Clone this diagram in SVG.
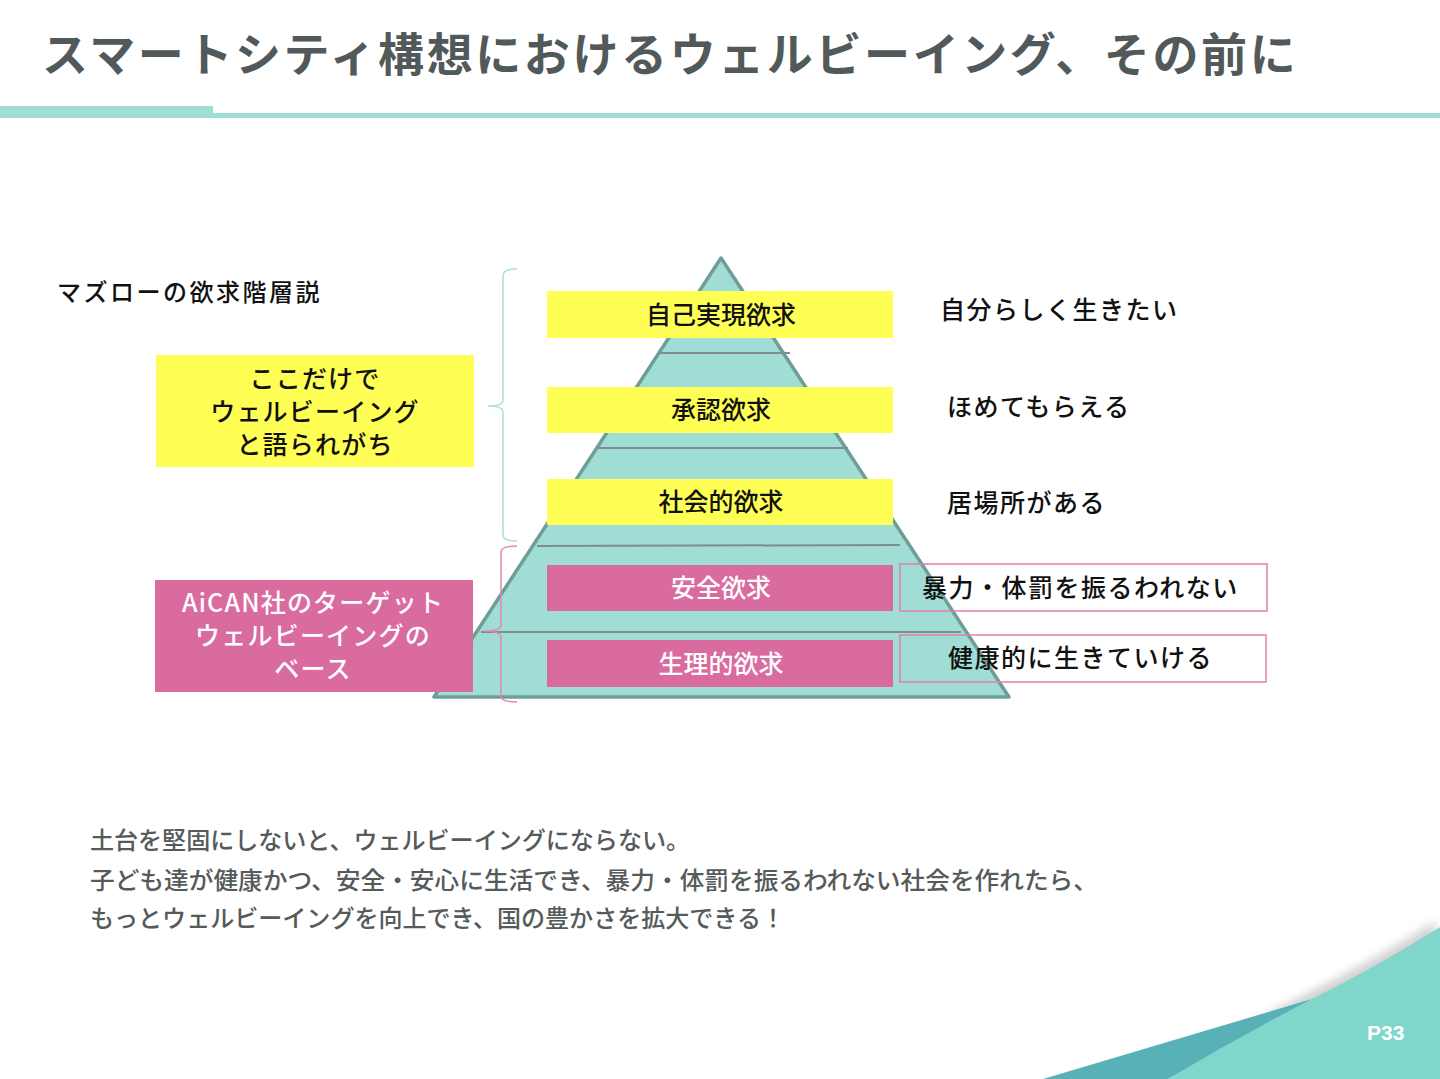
<svg xmlns="http://www.w3.org/2000/svg" width="1440" height="1079" viewBox="0 0 1440 1079">
<defs>
<style>
text{font-family:"Noto Sans CJK JP","Noto Sans",sans-serif;}
.title{font-size:46px;font-weight:700;fill:#52595a;letter-spacing:2.6px;}
.lvl{font-size:25px;font-weight:500;text-anchor:middle;}
.dk{fill:#111;}
.wt{fill:#fff;}
.desc{font-size:25px;font-weight:500;fill:#111;letter-spacing:1.5px;}
.yel{fill:#fefe55;}
.pnk{fill:#da6b9f;}
.sep{stroke:#7e8e8c;stroke-width:2;fill:none;}
.note{font-size:24px;font-weight:500;fill:#555a5a;}
.box{fill:none;stroke:#e27fab;stroke-width:1.5;}
.bl{font-size:25px;font-weight:500;text-anchor:middle;letter-spacing:1.2px;}
</style>
<filter id="blur" x="-10%" y="-50%" width="120%" height="200%">
<feGaussianBlur stdDeviation="5"/>
</filter>
</defs>
<rect width="1440" height="1079" fill="#fff"/>

<g id="header">
<text class="title" x="42" y="71">スマートシティ構想におけるウェルビーイング、その前に</text>
<rect x="0" y="106" width="213" height="9" fill="#9fddd7"/>
<rect x="0" y="113" width="1440" height="5" fill="#9fddd7"/>
</g>

<g id="pyramid">
<polygon points="721,258 434,697 1009,697" fill="#9fddd5" stroke="#6f9e99" stroke-width="3.5" stroke-linejoin="round"/>
<line class="sep" x1="659" y1="353" x2="790" y2="353"/>
<line class="sep" x1="597" y1="448" x2="848" y2="448"/>
<line class="sep" x1="537" y1="546" x2="900" y2="545"/>
<line class="sep" x1="481" y1="632" x2="961" y2="632"/>
</g>

<g id="connectors">
<path d="M517,269 Q503,269 503,276 L503,400 Q503,406 488,406 Q503,406 503,412 L503,535 Q503,541 517,541" fill="none" stroke="#a8e0db" stroke-width="1.5"/>
<path d="M517,546 Q501,546 501,552 L501,625 Q501,631 484,631 Q501,631 501,637 L501,696 Q501,702 517,702" fill="none" stroke="#e585b2" stroke-width="1.5"/>
</g>

<g id="n-self">
<rect class="yel" x="547" y="291" width="346" height="47"/>
<text class="lvl dk" x="721" y="324">自己実現欲求</text>
</g>
<g id="n-esteem">
<rect class="yel" x="547" y="387" width="346" height="46"/>
<text class="lvl dk" x="721" y="419">承認欲求</text>
</g>
<g id="n-social">
<rect class="yel" x="547" y="479" width="346" height="46"/>
<text class="lvl dk" x="721" y="511">社会的欲求</text>
</g>
<g id="n-safety">
<rect class="pnk" x="547" y="565" width="346" height="46"/>
<text class="lvl wt" x="721" y="597">安全欲求</text>
</g>
<g id="n-phys">
<rect class="pnk" x="547" y="640" width="346" height="47"/>
<text class="lvl wt" x="721" y="673">生理的欲求</text>
</g>

<g id="d-self"><text class="desc" x="940" y="319">自分らしく生きたい</text></g>
<g id="d-esteem"><text class="desc" x="947" y="416">ほめてもらえる</text></g>
<g id="d-social"><text class="desc" x="947" y="512">居場所がある</text></g>
<g id="d-safety">
<rect class="box" x="900" y="564" width="367" height="47"/>
<text class="desc" x="922" y="597">暴力・体罰を振るわれない</text>
</g>
<g id="d-phys">
<rect class="box" x="900" y="635" width="366" height="47"/>
<text class="desc" x="948" y="667">健康的に生きていける</text>
</g>

<g id="maslow"><text x="57" y="301" style="font-size:24px;font-weight:500;fill:#111;letter-spacing:2.5px">マズローの欲求階層説</text></g>

<g id="n-wb">
<rect class="yel" x="156" y="355" width="318" height="112"/>
<text class="bl dk" x="315" y="388">ここだけで</text>
<text class="bl dk" x="315" y="421">ウェルビーイング</text>
<text class="bl dk" x="315" y="454">と語られがち</text>
</g>
<g id="n-aican">
<rect class="pnk" x="155" y="580" width="318" height="112"/>
<text class="bl wt" x="313" y="612">AiCAN社のターゲット</text>
<text class="bl wt" x="313" y="645">ウェルビーイングの</text>
<text class="bl wt" x="313" y="678">ベース</text>
</g>

<g id="notes">
<text class="note" x="90" y="849" textLength="600" lengthAdjust="spacingAndGlyphs">土台を堅固にしないと、ウェルビーイングにならない。</text>
<text class="note" x="90" y="889" textLength="1008" lengthAdjust="spacingAndGlyphs">子ども達が健康かつ、安全・安心に生活でき、暴力・体罰を振るわれない社会を作れたら、</text>
<text class="note" x="90" y="927" textLength="695" lengthAdjust="spacingAndGlyphs">もっとウェルビーイングを向上でき、国の豊かさを拡大できる！</text>
</g>

<g id="corner">
<path d="M1168,1079 Q1240,1036 1312,999 Q1380,965 1440,927 L1440,1079 Z" fill="#000" opacity="0.18" filter="url(#blur)" transform="translate(-4,-6)"/>
<path d="M1043,1079 L1312,999 L1168,1079 Z" fill="#58b1b6"/>
<path d="M1168,1079 Q1240,1036 1312,999 Q1380,965 1440,927 L1440,1079 Z" fill="#80d6cb"/>
<text x="1367" y="1040" style="font-family:'Liberation Sans',Arial,sans-serif;font-size:21px;font-weight:700;fill:#fff">P33</text>
</g>
</svg>
